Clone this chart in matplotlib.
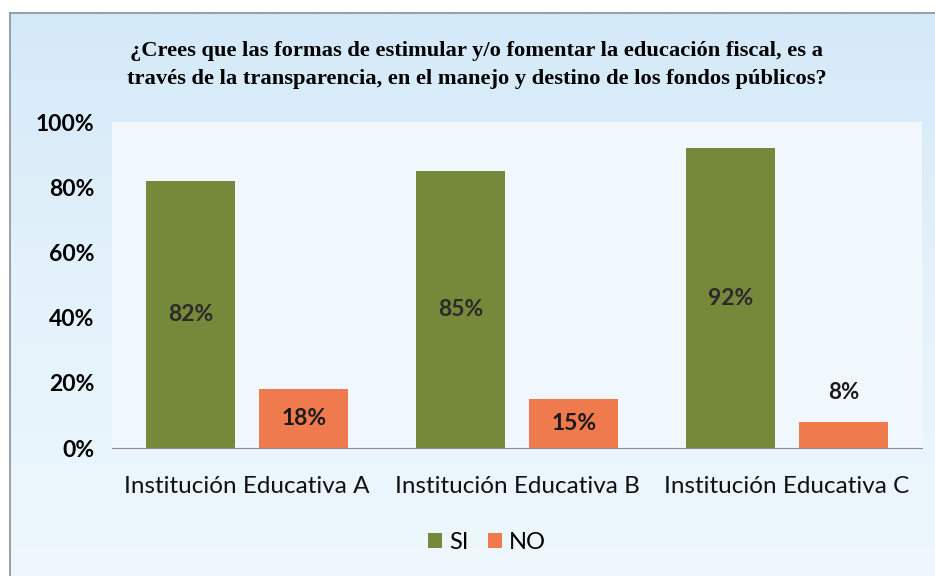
import matplotlib.pyplot as plt
import numpy as np

categories = ["Institución Educativa A", "Institución Educativa B", "Institución Educativa C"]
si_values = [0.82, 0.85, 0.92]
no_values = [0.18, 0.15, 0.08]
si_labels = ["82%", "85%", "92%"]
no_labels = ["18%", "15%", "8%"]
yticks = [0, 0.2, 0.4, 0.6, 0.8, 1.0]
ytick_labels = ["0%", "20%", "40%", "60%", "80%", "100%"]
title = ("¿Crees que las formas de estimular y/o fomentar la educación fiscal, es a\n"
         "través de la transparencia, en el manejo y destino de los fondos públicos?")

green = "#76893a"
orange = "#ef7a4e"
sans = ["Lato", "DejaVu Sans"]

fig = plt.figure(figsize=(9.35, 5.76), dpi=100, facecolor="white")

# light blue gradient background with a thin border
bg = fig.add_axes([0.011, 0, 0.989, 0.977])
grad = np.linspace(0, 1, 256).reshape(-1, 1)
bg.imshow(grad, aspect="auto", extent=[0, 1, 0, 1], origin="lower",
          cmap=plt.matplotlib.colors.LinearSegmentedColormap.from_list(
              "bgc", ["#eef8fd", "#e4f2fb", "#d4e9f8"]))
bg.set_xlim(0, 1)
bg.set_ylim(0, 1)
bg.set_xticks([])
bg.set_yticks([])
for s in ["right", "bottom"]:
    bg.spines[s].set_visible(False)
for s in ["left", "top"]:
    bg.spines[s].set_color("#8a8f96")
    bg.spines[s].set_linewidth(1.2)

ax = fig.add_axes([0.12, 0.222, 0.866, 0.566])
ax.set_facecolor("#f0f8fd")
x = np.arange(len(categories))
w = 0.33
off = 0.21
ax.bar(x - off, si_values, w, color=green, label="SI")
ax.bar(x + off, no_values, w, color=orange, label="NO")

for i in range(len(categories)):
    ax.text(x[i] - off, si_values[i] / 2, si_labels[i], ha="center", va="center",
            fontsize=16.5, fontweight="bold", color="#2a2a2a", family=sans)
    if no_values[i] >= 0.1:
        ax.text(x[i] + off, no_values[i] / 2, no_labels[i], ha="center", va="center",
                fontsize=16.5, fontweight="bold", color="#1a1a1a", family=sans)
    else:
        ax.text(x[i] + off, no_values[i] + 0.09, no_labels[i], ha="center", va="center",
                fontsize=16, fontweight="bold", color="#1a1a1a", family=sans)

ax.set_xlim(-0.5, 2.5)
ax.set_ylim(0, 1.0)
ax.set_yticks(yticks)
ax.set_yticklabels(ytick_labels, fontsize=16.5, fontweight="bold", family=sans)
ax.set_xticks(x)
ax.set_xticklabels(categories, fontsize=17.5, family=sans, color="#111111")
ax.tick_params(axis="both", length=0)
ax.tick_params(axis="x", pad=20)
ax.tick_params(axis="y", pad=13)
for s in ["top", "right", "left"]:
    ax.spines[s].set_visible(False)
ax.spines["bottom"].set_color("#8c8c8c")

fig.text(0.51, 0.887, title, ha="center", va="center", fontsize=16.2,
         fontweight="bold", family="Liberation Serif", linespacing=1.5)

ax.legend(loc="center", bbox_to_anchor=(0.463, -0.29), ncol=2, frameon=False,
          prop={"family": sans, "size": 17}, handlelength=0.6, handleheight=0.6,
          handletextpad=0.3, columnspacing=0.8)

fig.savefig("out.png", dpi=100)
